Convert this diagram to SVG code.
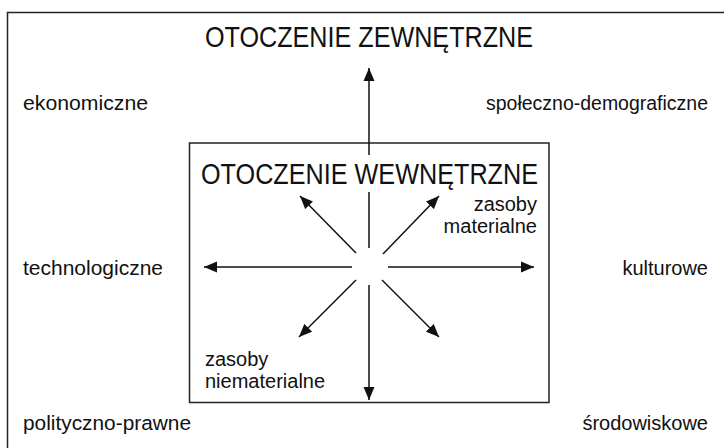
<svg xmlns="http://www.w3.org/2000/svg" width="724" height="448" viewBox="0 0 724 448">
<style>
  text { font-family: "Liberation Sans", Arial, sans-serif; fill: #111; }
  .title { font-size: 30px; }
  .lab { font-size: 20px; }
  .frame { fill: none; stroke: #222; stroke-width: 1.5; }
  .conn line { stroke: #111; stroke-width: 1.5; }
</style>
<defs>
  <marker id="ah" markerUnits="userSpaceOnUse" markerWidth="14" markerHeight="12" refX="13" refY="6" orient="auto">
    <path d="M0,0.5 L13,6 L0,11.5 Z" fill="#111"/>
  </marker>
</defs>
<rect width="724" height="448" fill="#fff"/>
<g id="outer">
  <rect class="frame" x="7.5" y="12.5" width="740" height="460"/>
  <text class="title" x="205" y="47" textLength="328" lengthAdjust="spacingAndGlyphs">OTOCZENIE ZEWNĘTRZNE</text>
</g>
<g id="ekonomiczne"><text class="lab" x="23" y="110" textLength="125" lengthAdjust="spacingAndGlyphs">ekonomiczne</text></g>
<g id="spoleczno"><text class="lab" x="708" y="110" text-anchor="end" textLength="222" lengthAdjust="spacingAndGlyphs">społeczno-demograficzne</text></g>
<g id="technologiczne"><text class="lab" x="23" y="275" textLength="140" lengthAdjust="spacingAndGlyphs">technologiczne</text></g>
<g id="kulturowe"><text class="lab" x="708" y="275" text-anchor="end">kulturowe</text></g>
<g id="polityczno"><text class="lab" x="23" y="430" textLength="168" lengthAdjust="spacingAndGlyphs">polityczno-prawne</text></g>
<g id="srodowiskowe"><text class="lab" x="708" y="430" text-anchor="end">środowiskowe</text></g>
<g id="inner">
  <rect class="frame" x="189.5" y="143" width="359.5" height="259.5" fill="#fff"/>
  <text class="title" x="201" y="184" textLength="337" lengthAdjust="spacingAndGlyphs">OTOCZENIE WEWNĘTRZNE</text>
  <text class="lab" x="537" y="211" text-anchor="end">zasoby</text>
  <text class="lab" x="537" y="233" text-anchor="end">materialne</text>
  <text class="lab" x="205" y="366">zasoby</text>
  <text class="lab" x="205" y="388">niematerialne</text>
</g>
<g id="connectors" class="conn">
  <line x1="369" y1="155" x2="369" y2="68" marker-end="url(#ah)"/>
  <line x1="369" y1="248" x2="369" y2="192"/>
  <line x1="369" y1="285" x2="369" y2="400" marker-end="url(#ah)"/>
  <line x1="352" y1="267" x2="204" y2="267" marker-end="url(#ah)"/>
  <line x1="388" y1="267" x2="534" y2="267" marker-end="url(#ah)"/>
  <line x1="356" y1="253" x2="300" y2="196" marker-end="url(#ah)"/>
  <line x1="383" y1="254" x2="439" y2="196" marker-end="url(#ah)"/>
  <line x1="356" y1="280" x2="299" y2="337" marker-end="url(#ah)"/>
  <line x1="382" y1="280" x2="439" y2="337" marker-end="url(#ah)"/>
</g>
</svg>
